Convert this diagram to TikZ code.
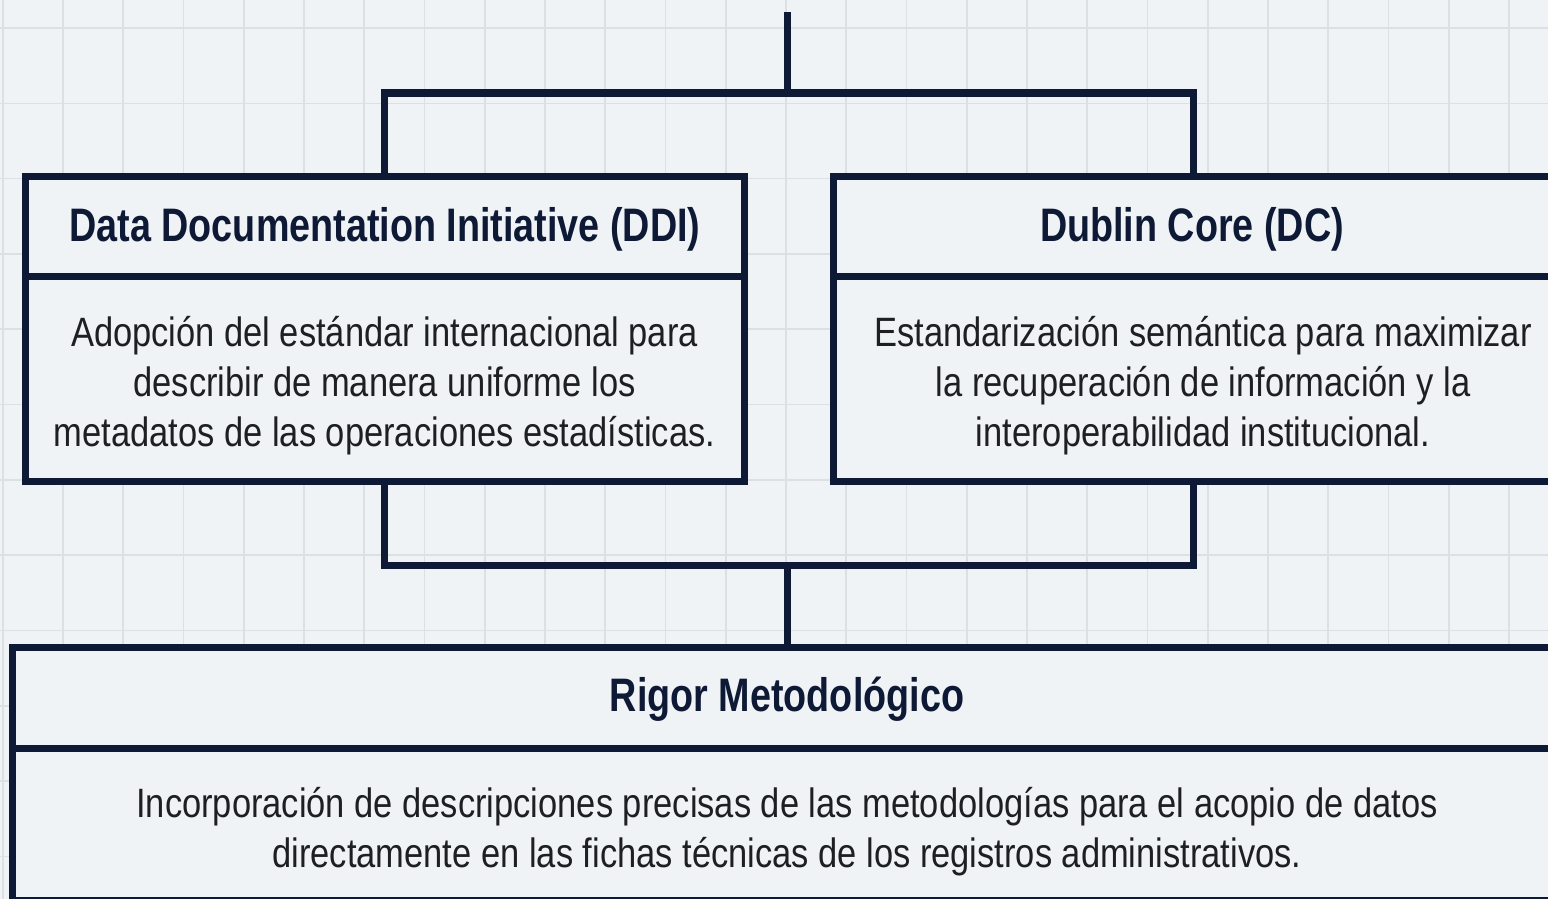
\documentclass[tikz,border=0pt]{standalone}
\usepackage{fontspec}
\setmainfont{Liberation Sans}[FakeStretch=0.841]
\newfontfamily\headfont{Liberation Sans}[FakeStretch=0.803]
\definecolor{bg}{HTML}{F0F3F6}
\definecolor{gridc}{HTML}{DCE0E5}
\definecolor{navy}{HTML}{0E1A35}
\definecolor{txt}{HTML}{1E1F22}
\begin{document}
\begin{tikzpicture}[x=1pt,y=-1pt,
  frame/.style={draw=navy,line width=7pt,fill=bg,rectangle,inner sep=0pt},
  wire/.style={draw=navy,line width=7pt,line join=miter},
  headtxt/.style={font=\headfont\bfseries\fontsize{47}{50}\selectfont,text=navy,inner sep=0pt},
  bodytxt/.style={font=\fontsize{41}{50}\selectfont,text=txt,align=center,inner sep=0pt}]
\useasboundingbox (0,0) rectangle (1548,899);
\fill[bg] (0,0) rectangle (1548,899);
% grid
\foreach \k in {0,...,25} {\draw[gridc,line width=1.6pt] ({2.75+60.25*\k},0) -- ({2.75+60.25*\k},899);}
\foreach \k in {0,...,11} {\draw[gridc,line width=1.6pt] (0,{28+75.3*\k}) -- (1548,{28+75.3*\k});}
% boxes
\node[frame,minimum width=719,minimum height=100] (ddih) at (384.5,226) {};
\node[headtxt] (ddiht) at (385,229) {Data Documentation Initiative (DDI)};
\node[frame,minimum width=719,minimum height=205] (ddib) at (384.5,378.5) {};
\node[bodytxt] (ddit) at (384.5,386) {Adopción del estándar internacional para\\describir de manera uniforme los\\metadatos de las operaciones estadísticas.};
\node[frame,minimum width=720,minimum height=100] (dch) at (1193,226) {};
\node[headtxt] (dcht) at (1192,229) {Dublin Core (DC)};
\node[frame,minimum width=720,minimum height=205] (dcb) at (1193,378.5) {};
\node[bodytxt] (dct) at (1203,386) {Estandarización semántica para maximizar\\la recuperación de información y la\\interoperabilidad institucional.};
\node[frame,minimum width=1550,minimum height=101] (rgh) at (787,697.5) {};
\node[headtxt] (rght) at (787,699) {Rigor Metodológico};
\node[frame,minimum width=1550,minimum height=152] (rgb) at (787,824) {};
\node[bodytxt] (rgt) at (787,832) {Incorporación de descripciones precisas de las metodologías para el acopio de datos\\directamente en las fichas técnicas de los registros administrativos.};
% connectors
\coordinate (top) at (787,12);
\coordinate (j1) at (787,93);
\coordinate (j2) at (787,565);
\draw[wire] (top) -- (j1);
\draw[wire] (ddih.north) |- (j1) -| (dch.north);
\draw[wire] (ddib.south) |- (j2) -| (dcb.south);
\draw[wire] (j2) -- (rgh.north);
\end{tikzpicture}
\end{document}
